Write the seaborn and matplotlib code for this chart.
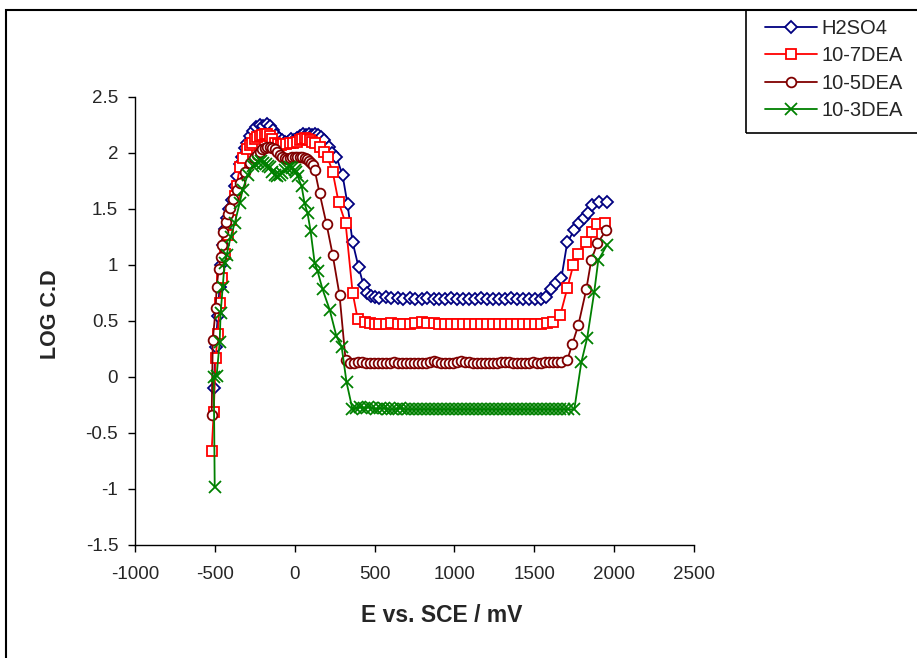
import pandas as pd
import seaborn as sns
import matplotlib.pyplot as plt
from matplotlib.patches import Rectangle

# Dados (E em mV, log da densidade de corrente)
h2so4_e = [-506, -494, -481, -470, -460, -450, -438, -425, -410, -394, -375, -363, -344, -331, -313,
           -300, -281, -262, -240, -219, -200, -175, -156, -138, -119, -100, -81, -62, -44, -25,
           -6, 12, 31, 50, 69, 88, 106, 125, 144, 162, 181, 212, 237, 262, 300, 331, 363, 400,
           431, 456, 475, 500, 531, 569, 606, 644, 681, 719, 756, 794, 831, 869, 906, 944, 981,
           1019, 1056, 1094, 1131, 1169, 1206, 1244, 1281, 1319, 1356, 1394, 1431, 1469, 1506,
           1544, 1575, 1606, 1637, 1669, 1706, 1750, 1781, 1812, 1837, 1862, 1906, 1956]
h2so4_log = [-0.10, 0.27, 0.54, 0.80, 1.00, 1.18, 1.32, 1.42, 1.50, 1.58, 1.70, 1.79, 1.90, 1.96, 2.04,
             2.09, 2.15, 2.19, 2.23, 2.25, 2.24, 2.26, 2.24, 2.20, 2.16, 2.13, 2.11, 2.10, 2.10, 2.12,
             2.11, 2.13, 2.15, 2.17, 2.16, 2.17, 2.16, 2.17, 2.16, 2.14, 2.11, 2.05, 2.00, 1.96, 1.80,
             1.54, 1.20, 0.98, 0.82, 0.75, 0.72, 0.71, 0.70, 0.71, 0.70, 0.70, 0.69, 0.70, 0.69,
             0.69, 0.70, 0.69, 0.69, 0.69, 0.70, 0.69, 0.69, 0.69, 0.69, 0.70, 0.69, 0.69, 0.69,
             0.69, 0.70, 0.69, 0.69, 0.69, 0.69, 0.69, 0.71, 0.78, 0.84, 0.88, 1.20, 1.31, 1.37,
             1.42, 1.46, 1.53, 1.56, 1.56]

dea7_e = [-519, -506, -494, -481, -469, -456, -438, -419, -400, -375, -363, -344, -325, -300, -281,
          -269, -250, -238, -219, -206, -188, -175, -156, -144, -125, -106, -88, -75, -56, -31, -12,
          12, 31, 44, 62, 75, 94, 106, 125, 156, 181, 206, 238, 275, 319, 363, 394, 438, 469, 500,
          531, 569, 606, 644, 681, 719, 756, 794, 831, 869, 906, 944, 981, 1019, 1056, 1094, 1131,
          1169, 1206, 1244, 1281, 1319, 1356, 1394, 1431, 1469, 1506, 1544, 1581, 1619, 1662, 1706,
          1744, 1775, 1825, 1862, 1894, 1944]
dea7_log = [-0.66, -0.31, 0.17, 0.38, 0.66, 0.88, 1.10, 1.27, 1.40, 1.61, 1.70, 1.87, 1.95, 2.03, 2.07,
            2.09, 2.12, 2.14, 2.15, 2.16, 2.17, 2.17, 2.15, 2.12, 2.09, 2.08, 2.07, 2.08, 2.08, 2.09,
            2.09, 2.10, 2.11, 2.12, 2.13, 2.12, 2.11, 2.10, 2.09, 2.05, 2.01, 1.96, 1.83, 1.56, 1.37,
            0.75, 0.52, 0.49, 0.48, 0.47, 0.47, 0.47, 0.48, 0.47, 0.47, 0.47, 0.48, 0.49, 0.48, 0.48,
            0.47, 0.47, 0.47, 0.47, 0.47, 0.47, 0.47, 0.47, 0.47, 0.47, 0.47, 0.47, 0.47, 0.47, 0.47,
            0.47, 0.47, 0.47, 0.48, 0.49, 0.55, 0.79, 1.00, 1.10, 1.20, 1.29, 1.36, 1.37]

dea5_e = [-519, -512, -494, -488, -475, -463, -456, -450, -431, -419, -406, -388, -363, -344, -313,
          -281, -256, -238, -219, -206, -188, -175, -156, -144, -125, -113, -94, -81, -62, -50, -31,
          -19, 0, 12, 31, 44, 62, 75, 88, 100, 112, 125, 156, 200, 238, 281, 319, 344, 369, 394,
          419, 444, 469, 494, 519, 544, 569, 594, 619, 644, 669, 694, 719, 744, 769, 794, 819, 844,
          869, 894, 919, 944, 969, 994, 1019, 1044, 1069, 1094, 1119, 1144, 1169, 1194, 1219, 1244,
          1269, 1294, 1319, 1344, 1369, 1394, 1419, 1444, 1469, 1494, 1519, 1544, 1569, 1594, 1619,
          1644, 1669, 1706, 1737, 1775, 1825, 1856, 1894, 1950]
dea5_log = [-0.34, 0.33, 0.61, 0.80, 0.96, 1.07, 1.18, 1.29, 1.38, 1.45, 1.51, 1.59, 1.67, 1.73, 1.83,
            1.91, 1.95, 1.98, 2.01, 2.03, 2.04, 2.05, 2.05, 2.04, 2.03, 2.01, 1.98, 1.96, 1.95, 1.94,
            1.95, 1.96, 1.96, 1.96, 1.96, 1.96, 1.95, 1.94, 1.93, 1.91, 1.89, 1.85, 1.64, 1.36, 1.09,
            0.73, 0.15, 0.12, 0.12, 0.13, 0.13, 0.12, 0.12, 0.12, 0.12, 0.12, 0.12, 0.12, 0.13, 0.12,
            0.12, 0.12, 0.12, 0.12, 0.12, 0.12, 0.12, 0.13, 0.14, 0.13, 0.12, 0.12, 0.12, 0.12, 0.13,
            0.14, 0.13, 0.13, 0.12, 0.12, 0.12, 0.12, 0.12, 0.12, 0.12, 0.13, 0.13, 0.13, 0.12, 0.12,
            0.12, 0.12, 0.12, 0.13, 0.12, 0.12, 0.13, 0.13, 0.13, 0.13, 0.13, 0.15, 0.29, 0.46, 0.78,
            1.04, 1.19, 1.31]

dea3_e = [-500, -506, -488, -469, -463, -450, -438, -425, -400, -375, -344, -325, -294, -263, -250,
          -231, -213, -200, -181, -169, -156, -144, -125, -113, -94, -81, -63, -50, -31, -19, 0, 6,
          19, 44, 62, 81, 100, 125, 144, 175, 219, 262, 294, 325, 362, 387, 412, 437, 462, 487,
          512, 537, 562, 587, 612, 637, 662, 687, 712, 737, 762, 787, 812, 837, 862, 887, 912, 937,
          962, 987, 1012, 1037, 1062, 1087, 1112, 1137, 1162, 1187, 1212, 1237, 1262, 1287, 1312,
          1337, 1362, 1387, 1412, 1437, 1462, 1487, 1512, 1537, 1562, 1587, 1612, 1637, 1662, 1687,
          1712, 1750, 1794, 1831, 1875, 1900, 1956]
dea3_log = [-0.98, 0.00, 0.01, 0.31, 0.57, 0.80, 1.02, 1.09, 1.25, 1.37, 1.55, 1.67, 1.80, 1.88, 1.90,
            1.92, 1.93, 1.91, 1.90, 1.88, 1.87, 1.83, 1.80, 1.79, 1.80, 1.82, 1.85, 1.86, 1.87, 1.86,
            1.85, 1.83, 1.79, 1.70, 1.55, 1.46, 1.30, 1.02, 0.94, 0.78, 0.60, 0.36, 0.27, -0.05,
            -0.29, -0.28, -0.27, -0.28, -0.27, -0.28, -0.29, -0.28, -0.28, -0.29, -0.29, -0.29,
            -0.28, -0.29, -0.29, -0.29, -0.29, -0.29, -0.29, -0.29, -0.29, -0.29, -0.29, -0.29,
            -0.29, -0.29, -0.29, -0.29, -0.29, -0.29, -0.29, -0.29, -0.29, -0.29, -0.29, -0.29,
            -0.29, -0.29, -0.29, -0.29, -0.29, -0.29, -0.29, -0.29, -0.29, -0.29, -0.29, -0.29,
            -0.29, -0.29, -0.29, -0.29, -0.29, -0.29, -0.29, -0.29, 0.13, 0.35, 0.76, 1.04, 1.18]

series = [
    ('H2SO4', h2so4_e, h2so4_log, '#000080', 'D', 6),
    ('10-7DEA', dea7_e, dea7_log, '#FF0000', 's', 7),
    ('10-5DEA', dea5_e, dea5_log, '#800000', 'o', 7),
    ('10-3DEA', dea3_e, dea3_log, '#008000', 'x', 8),
]

sns.set_style('white')
plt.rcParams['font.family'] = ['Liberation Sans', 'DejaVu Sans']
plt.rcParams['axes.unicode_minus'] = False

fig = plt.figure(figsize=(9.17, 6.58), dpi=100)
ax = fig.add_axes([0.147, 0.172, 0.61, 0.681])

for nome, e, lg, cor, mk, ms in series:
    df = pd.DataFrame({'E': e, 'log': lg})
    sns.lineplot(data=df, x='E', y='log', ax=ax, color=cor, marker=mk, markersize=ms,
                 markerfacecolor='white', markeredgecolor=cor, markeredgewidth=1.3,
                 linewidth=1.3, sort=False, estimator=None, label=nome)

ax.set_xlim(-1000, 2500)
ax.set_ylim(-1.5, 2.5)
ax.set_xticks(range(-1000, 2501, 500))
ax.set_yticks([-1.5, -1, -0.5, 0, 0.5, 1, 1.5, 2, 2.5])
ax.set_yticklabels(['-1.5', '-1', '-0.5', '0', '0.5', '1', '1.5', '2', '2.5'])
ax.tick_params(axis='both', labelsize=13.5, direction='out', length=5, width=1, color='black',
               left=True, bottom=True)
ax.tick_params(axis='x', pad=10)
ax.tick_params(axis='y', pad=7)
for s in ['top', 'right']:
    ax.spines[s].set_visible(False)
for s in ['left', 'bottom']:
    ax.spines[s].set_color('black')
    ax.spines[s].set_linewidth(1)
ax.set_xlabel('')
ax.set_ylabel('')
fig.text(442 / 917, 1 - 615 / 658, 'E vs. SCE / mV', fontsize=16.5, fontweight='bold',
         ha='center', va='center')
fig.text(50 / 917, 1 - 314 / 658, 'LOG C.D', fontsize=15.5, fontweight='bold',
         ha='center', va='center', rotation=90)

# Legenda fora da área do gráfico (moldura desenhada à parte)
ax.legend(loc='upper left', bbox_to_anchor=(765 / 917, 1 - 19 / 658), bbox_transform=fig.transFigure,
          fontsize=14.5, frameon=False, handlelength=2.6, borderpad=0, borderaxespad=0,
          labelspacing=0.42, handletextpad=0.2)
fig.patches.append(Rectangle((746 / 917, 1 - 133 / 658), 0.4, 123 / 658, transform=fig.transFigure,
                             fill=False, edgecolor='black', linewidth=1.2))

# Borda da área do gráfico
fig.patches.append(Rectangle((0.0065, -0.1), 1.2, 1.085, transform=fig.transFigure,
                             fill=False, edgecolor='black', linewidth=1.5))

fig.savefig('out.png', dpi=100)
